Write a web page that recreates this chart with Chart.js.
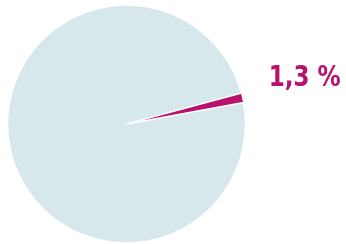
<!DOCTYPE html>
<html>
<head>
<meta charset="utf-8">
<script src="https://cdn.jsdelivr.net/npm/chart.js@4/dist/chart.umd.min.js"></script>
<style>
  html, body { margin: 0; padding: 0; background: #ffffff; }
  #wrap { width: 346px; height: 244px; }
</style>
</head>
<body>
<div id="wrap"><canvas id="chart" width="346" height="244"></canvas></div>
<script>
const categories = ["Rest", "Anteil"];
const values = [98.7, 1.3];
const labels = ["", "1,3 %"];
const colors = ["#d6e8ec", "#b8126f"];

// draws the percentage label next to the small slice
const sliceLabel = {
  id: "sliceLabel",
  afterDatasetsDraw(chart) {
    const ctx = chart.ctx;
    const arc = chart.getDatasetMeta(0).data[1];
    const p = arc.getProps(["x", "y", "startAngle", "outerRadius"], true);
    const ex = p.x + Math.cos(p.startAngle) * p.outerRadius;
    const ey = p.y + Math.sin(p.startAngle) * p.outerRadius;
    ctx.save();
    ctx.fillStyle = colors[1];
    ctx.font = "bold 28px 'DejaVu Sans Condensed', 'DejaVu Sans', sans-serif";
    ctx.textAlign = "left";
    ctx.textBaseline = "alphabetic";
    const w = ctx.measureText(labels[1]).width;
    ctx.translate(ex + 28, ey - 7);
    ctx.scale(72 / w, 1);
    ctx.fillText(labels[1], 0, 0);
    ctx.restore();
  }
};

new Chart(document.getElementById("chart"), {
  type: "pie",
  data: {
    labels: categories,
    datasets: [{
      data: values,
      backgroundColor: colors,
      borderColor: "#ffffff",
      borderWidth: [0, 1.5],
      offset: [0, 2]
    }]
  },
  options: {
    responsive: false,
    animation: false,
    rotation: 79.6,
    layout: { padding: { left: 6.5, right: 99.5, top: 4, bottom: 0 } },
    plugins: {
      legend: { display: false },
      tooltip: { enabled: false }
    }
  },
  plugins: [sliceLabel]
});
</script>
</body>
</html>
